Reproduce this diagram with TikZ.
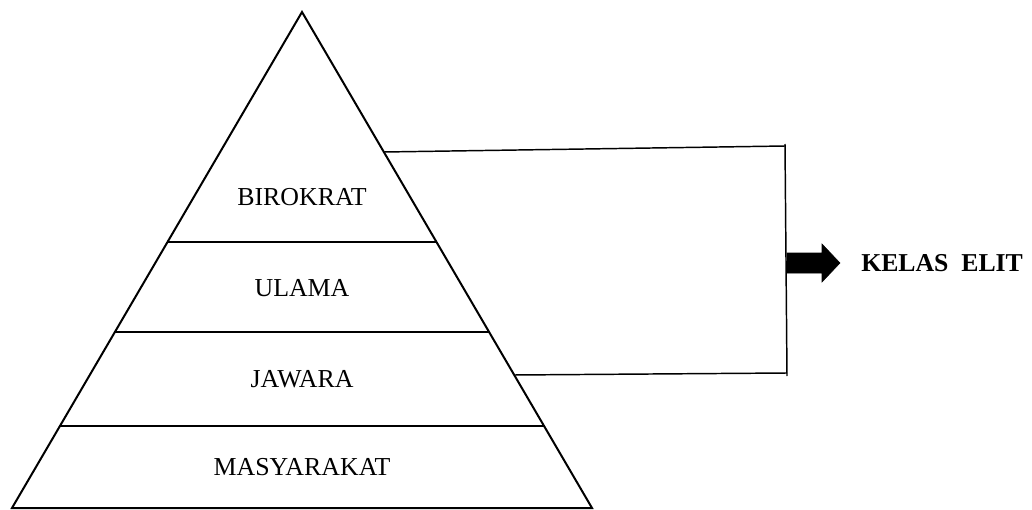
\documentclass[tikz,border=0pt]{standalone}
\usepackage{fontspec}
\setmainfont{Liberation Serif}
\usetikzlibrary{calc}
\begin{document}
\begin{tikzpicture}[x=0.75pt,y=-0.75pt,
  edge/.style={line width=1.5pt,line join=miter},
  divider/.style={line width=1.1pt},
  bracket/.style={line width=1.1pt},
  lbl/.style={font=\fontsize{19.4}{21}\selectfont,inner sep=0pt},
  elit/.style={font=\fontsize{19.3}{21}\selectfont\bfseries,inner sep=0pt,anchor=west},
  blockarrow/.style={fill=black,draw=black,line width=0.4pt}]
\useasboundingbox (0,0) rectangle (1032,510);
\coordinate (apex) at (302,12);
\coordinate (bl) at (12,508);
\coordinate (br) at (592,508);
\draw[edge] (bl) -- (apex) -- (br) -- cycle;
% dividers
\foreach \n/\yy in {d1/242,d2/332,d3/426}{
  \pgfmathsetmacro{\t}{(\yy-12)/496}
  \coordinate (\n l) at ($(apex)!\t!(bl)$);
  \coordinate (\n r) at ($(apex)!\t!(br)$);
  \draw[divider] (\n l) -- (\n r);
}
% labels
\node[lbl] (birokrat) at (302,197) {BIROKRAT};
\node[lbl] (ulama) at (302,288) {ULAMA};
\node[lbl] (jawara) at (302,379) {JAWARA};
\node[lbl] (masy) at (302,467) {MASYARAKAT};
% bracket
\pgfmathsetmacro{\ta}{(152-12)/496}
\pgfmathsetmacro{\tb}{(375-12)/496}
\coordinate (bt) at ($(apex)!\ta!(br)$);
\coordinate (bb) at ($(apex)!\tb!(br)$);
\coordinate (vt) at (785,146);
\coordinate (vtop) at (785,144);
\coordinate (vb) at (787,373);
\coordinate (vbot) at (787,376);
\draw[bracket] (bt) -- (vt);
\draw[bracket] (vtop) -- (vbot);
\draw[bracket] (bb) -- (vb);
% arrow and label
\coordinate (arr) at (787,263);
\fill[blockarrow] (arr) ++(0,-10) -- ++(35,0) -- ++(0,-9) -- ++(18,19)
   -- ++(-18,19) -- ++(0,-9) -- ++(-35,0) -- cycle;
\node[elit] (kelas) at (861,263) {KELAS\ \ ELIT};
\end{tikzpicture}
\end{document}
